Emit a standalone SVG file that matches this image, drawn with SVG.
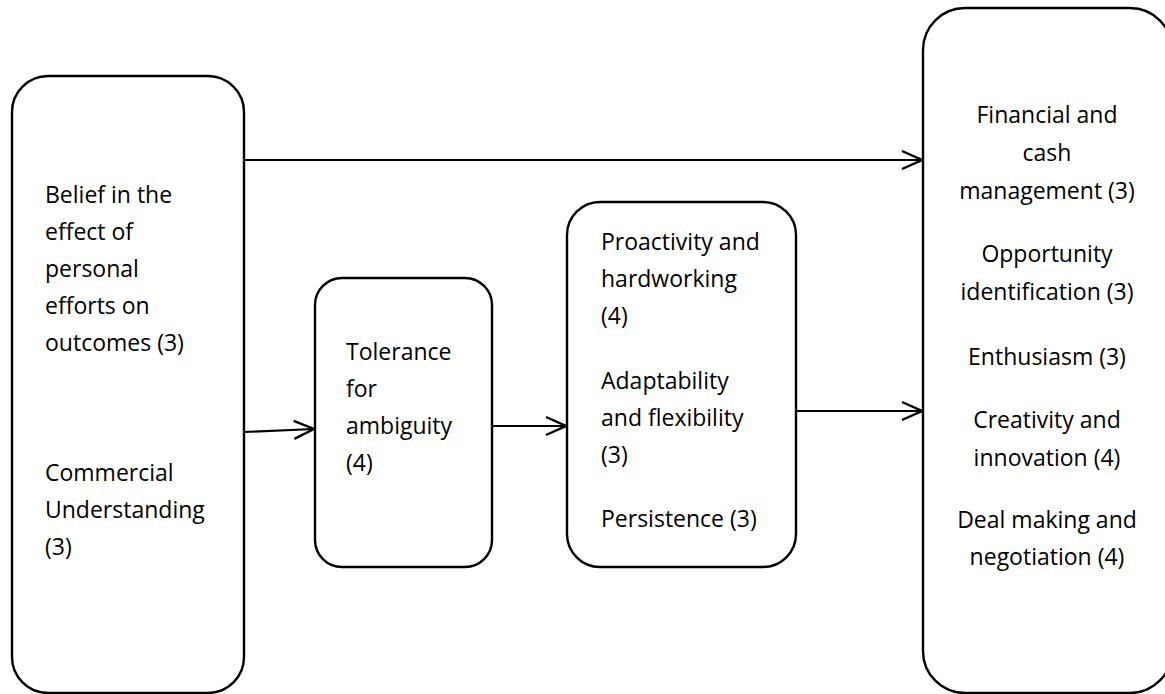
<svg xmlns="http://www.w3.org/2000/svg" width="1165" height="694" viewBox="0 0 1165 694">
<defs>
<style>
.box{fill:#fff;stroke:#000;stroke-width:2.4}
.t{font-family:"Open Sans","Noto Sans","Liberation Sans",sans-serif;font-size:23px;fill:#000}
.c{text-anchor:middle}
.ln{fill:none;stroke:#000;stroke-width:2.2}
</style>
<marker id="ah" markerUnits="userSpaceOnUse" markerWidth="24" markerHeight="24" viewBox="-22 -12 24 24" refX="0" refY="0" orient="auto">
<path d="M-20,-9 L0,0 L-20,9" fill="none" stroke="#000" stroke-width="2.4"/>
</marker>
</defs>
<rect width="1165" height="694" fill="#fff"/>
<g id="node-left">
<rect class="box" x="12" y="76" width="232" height="617" rx="36" ry="36"/>
<text class="t"><tspan x="45" y="203">Belief in the</tspan><tspan x="45" y="240">effect of</tspan><tspan x="45" y="277">personal</tspan><tspan x="45" y="314">efforts on</tspan><tspan x="45" y="351">outcomes (3)</tspan></text>
<text class="t"><tspan x="45" y="481">Commercial</tspan><tspan x="45" y="518">Understanding</tspan><tspan x="45" y="555">(3)</tspan></text>
</g>
<g id="node-tolerance">
<rect class="box" x="315" y="278" width="177" height="289" rx="27" ry="27"/>
<text class="t"><tspan x="346" y="360">Tolerance</tspan><tspan x="346" y="397">for</tspan><tspan x="346" y="434">ambiguity</tspan><tspan x="346" y="471">(4)</tspan></text>
</g>
<g id="node-middle">
<rect class="box" x="567" y="202" width="229" height="365" rx="33" ry="33"/>
<text class="t"><tspan x="601" y="250">Proactivity and</tspan><tspan x="601" y="287">hardworking</tspan><tspan x="601" y="324">(4)</tspan></text>
<text class="t"><tspan x="601" y="389">Adaptability</tspan><tspan x="601" y="426">and flexibility</tspan><tspan x="601" y="463">(3)</tspan></text>
<text class="t"><tspan x="601" y="527">Persistence (3)</tspan></text>
</g>
<g id="node-right">
<rect class="box" x="923" y="8" width="249" height="685" rx="42" ry="42"/>
<text class="t c"><tspan x="1047" y="123">Financial and</tspan><tspan x="1047" y="161">cash</tspan><tspan x="1047" y="199">management (3)</tspan></text>
<text class="t c"><tspan x="1047" y="262">Opportunity</tspan><tspan x="1047" y="300">identification (3)</tspan></text>
<text class="t c"><tspan x="1047" y="365">Enthusiasm (3)</tspan></text>
<text class="t c"><tspan x="1047" y="428">Creativity and</tspan><tspan x="1047" y="466">innovation (4)</tspan></text>
<text class="t c"><tspan x="1047" y="528">Deal making and</tspan><tspan x="1047" y="565">negotiation (4)</tspan></text>
</g>
<g id="connectors">
<line class="ln" x1="244" y1="160" x2="922" y2="160" marker-end="url(#ah)"/>
<line class="ln" x1="244" y1="432" x2="314" y2="429" marker-end="url(#ah)"/>
<line class="ln" x1="492" y1="426" x2="566" y2="426" marker-end="url(#ah)"/>
<line class="ln" x1="796" y1="411" x2="922" y2="411" marker-end="url(#ah)"/>
</g>
</svg>
